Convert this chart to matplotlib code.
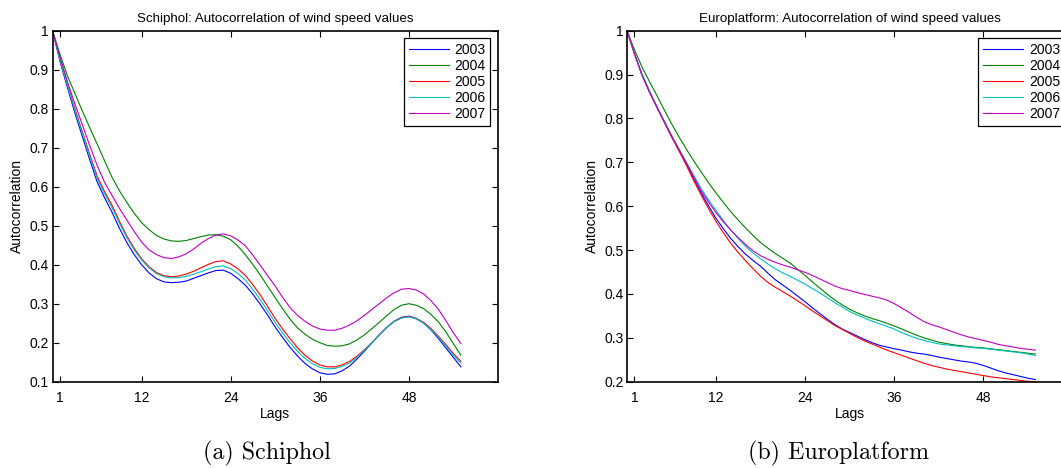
import matplotlib
matplotlib.use("Agg")
import matplotlib.pyplot as plt

# ---------------- data ----------------
lags = list(range(0, 56))
years = ["2003", "2004", "2005", "2006", "2007"]

# Schiphol
sch_2003 = [1.0, 0.922, 0.855, 0.790, 0.730, 0.670, 0.613, 0.572, 0.535, 0.494,
            0.457, 0.426, 0.400, 0.379, 0.364, 0.356, 0.354, 0.355, 0.358, 0.365,
            0.372, 0.379, 0.385, 0.386, 0.378, 0.364, 0.347, 0.324, 0.298, 0.270,
            0.240, 0.213, 0.188, 0.166, 0.147, 0.133, 0.123, 0.119, 0.120, 0.128,
            0.140, 0.158, 0.178, 0.199, 0.220, 0.239, 0.255, 0.265, 0.268, 0.262,
            0.250, 0.232, 0.210, 0.186, 0.162, 0.138]
sch_2004 = [1.0, 0.940, 0.885, 0.840, 0.795, 0.752, 0.710, 0.667, 0.625, 0.590,
            0.560, 0.532, 0.508, 0.490, 0.475, 0.466, 0.461, 0.460, 0.462, 0.467,
            0.472, 0.476, 0.477, 0.473, 0.464, 0.447, 0.425, 0.400, 0.373, 0.344,
            0.315, 0.287, 0.260, 0.238, 0.222, 0.209, 0.200, 0.193, 0.191, 0.192,
            0.197, 0.207, 0.220, 0.236, 0.252, 0.269, 0.285, 0.296, 0.300, 0.296,
            0.287, 0.272, 0.253, 0.227, 0.197, 0.168]
sch_2005 = [1.0, 0.928, 0.862, 0.801, 0.742, 0.684, 0.628, 0.588, 0.553, 0.512,
            0.474, 0.442, 0.415, 0.395, 0.380, 0.372, 0.369, 0.371, 0.376, 0.383,
            0.392, 0.401, 0.408, 0.410, 0.402, 0.389, 0.372, 0.348, 0.322, 0.292,
            0.262, 0.235, 0.210, 0.187, 0.168, 0.153, 0.143, 0.138, 0.138, 0.143,
            0.152, 0.165, 0.182, 0.200, 0.220, 0.239, 0.254, 0.264, 0.267, 0.262,
            0.252, 0.236, 0.216, 0.195, 0.172, 0.152]
sch_2006 = [1.0, 0.926, 0.860, 0.797, 0.738, 0.679, 0.622, 0.582, 0.547, 0.507,
            0.470, 0.438, 0.412, 0.392, 0.377, 0.369, 0.366, 0.367, 0.370, 0.376,
            0.382, 0.389, 0.395, 0.397, 0.390, 0.377, 0.360, 0.336, 0.310, 0.281,
            0.252, 0.225, 0.200, 0.178, 0.160, 0.146, 0.137, 0.133, 0.134, 0.139,
            0.148, 0.162, 0.180, 0.200, 0.220, 0.239, 0.254, 0.263, 0.266, 0.261,
            0.250, 0.233, 0.213, 0.191, 0.168, 0.148]
sch_2007 = [1.0, 0.934, 0.870, 0.813, 0.760, 0.706, 0.655, 0.612, 0.578, 0.545,
            0.515, 0.485, 0.458, 0.438, 0.426, 0.418, 0.416, 0.420, 0.428, 0.440,
            0.455, 0.467, 0.476, 0.479, 0.474, 0.463, 0.448, 0.424, 0.398, 0.371,
            0.345, 0.316, 0.290, 0.270, 0.255, 0.243, 0.235, 0.232, 0.232, 0.237,
            0.245, 0.256, 0.270, 0.285, 0.300, 0.315, 0.328, 0.337, 0.339, 0.335,
            0.325, 0.307, 0.285, 0.256, 0.225, 0.198]

# Europlatform
eur_2003 = [1.0, 0.948, 0.900, 0.862, 0.827, 0.793, 0.760, 0.728, 0.697, 0.662,
            0.630, 0.600, 0.572, 0.548, 0.526, 0.507, 0.490, 0.476, 0.463, 0.447,
            0.432, 0.420, 0.408, 0.395, 0.382, 0.368, 0.355, 0.342, 0.330, 0.320,
            0.312, 0.304, 0.296, 0.289, 0.283, 0.279, 0.275, 0.272, 0.268, 0.265,
            0.263, 0.260, 0.256, 0.253, 0.250, 0.247, 0.245, 0.242, 0.237, 0.231,
            0.225, 0.220, 0.216, 0.212, 0.208, 0.205]
eur_2004 = [1.0, 0.957, 0.918, 0.885, 0.853, 0.820, 0.788, 0.758, 0.730, 0.703,
            0.678, 0.653, 0.630, 0.608, 0.587, 0.568, 0.550, 0.533, 0.517, 0.504,
            0.492, 0.481, 0.470, 0.456, 0.442, 0.427, 0.413, 0.399, 0.386, 0.375,
            0.365, 0.357, 0.350, 0.344, 0.339, 0.333, 0.327, 0.320, 0.313, 0.306,
            0.300, 0.295, 0.290, 0.287, 0.284, 0.282, 0.280, 0.278, 0.277, 0.275,
            0.273, 0.271, 0.269, 0.267, 0.265, 0.263]
eur_2005 = [1.0, 0.948, 0.900, 0.861, 0.826, 0.792, 0.758, 0.726, 0.693, 0.658,
            0.625, 0.594, 0.565, 0.539, 0.515, 0.494, 0.475, 0.457, 0.440, 0.426,
            0.415, 0.405, 0.395, 0.384, 0.373, 0.361, 0.350, 0.339, 0.328, 0.319,
            0.310, 0.301, 0.293, 0.286, 0.279, 0.272, 0.266, 0.260, 0.254, 0.248,
            0.242, 0.237, 0.233, 0.229, 0.226, 0.223, 0.220, 0.217, 0.214, 0.211,
            0.209, 0.207, 0.205, 0.203, 0.201, 0.200]
eur_2006 = [1.0, 0.949, 0.902, 0.864, 0.828, 0.795, 0.762, 0.731, 0.700, 0.670,
            0.640, 0.614, 0.590, 0.567, 0.545, 0.526, 0.508, 0.493, 0.480, 0.468,
            0.457, 0.448, 0.440, 0.431, 0.422, 0.412, 0.402, 0.391, 0.380, 0.370,
            0.360, 0.352, 0.345, 0.338, 0.332, 0.326, 0.320, 0.312, 0.305, 0.299,
            0.294, 0.290, 0.286, 0.284, 0.282, 0.280, 0.279, 0.277, 0.276, 0.274,
            0.272, 0.270, 0.268, 0.266, 0.263, 0.260]
eur_2007 = [1.0, 0.948, 0.900, 0.862, 0.827, 0.793, 0.760, 0.729, 0.698, 0.666,
            0.635, 0.609, 0.585, 0.564, 0.545, 0.528, 0.512, 0.498, 0.487, 0.479,
            0.472, 0.466, 0.461, 0.455, 0.449, 0.442, 0.434, 0.426, 0.418, 0.412,
            0.408, 0.403, 0.399, 0.395, 0.391, 0.386, 0.378, 0.368, 0.358, 0.347,
            0.337, 0.330, 0.325, 0.319, 0.313, 0.307, 0.302, 0.298, 0.294, 0.290,
            0.285, 0.282, 0.279, 0.276, 0.274, 0.272]

xticks = [1, 12, 24, 36, 48]
sch_yticks = [0.1, 0.2, 0.3, 0.4, 0.5, 0.6, 0.7, 0.8, 0.9, 1.0]
sch_yticklabels = ["0.1", "0.2", "0.3", "0.4", "0.5", "0.6", "0.7", "0.8", "0.9", "1"]
eur_yticks = [0.2, 0.3, 0.4, 0.5, 0.6, 0.7, 0.8, 0.9, 1.0]
eur_yticklabels = ["0.2", "0.3", "0.4", "0.5", "0.6", "0.7", "0.8", "0.9", "1"]

colors = [(0, 0, 1), (0, 0.5, 0), (1, 0, 0), (0, 0.75, 0.75), (0.75, 0, 0.75)]

# ---------------- figure ----------------
plt.rcParams["font.family"] = ["Liberation Sans", "DejaVu Sans"]
W, H = 1061, 468
fig = plt.figure(figsize=(W / 100, H / 100), dpi=100)

FS = 10


def make_axes(left_px, series, yticks, yticklabels, ylim, title):
    ax = fig.add_axes([left_px / W, 1 - 381.7 / H, 445.5 / W, 351 / H])
    for s, c, lab in zip(series, colors, years):
        ax.plot(lags, s, color=c, lw=0.8, label=lab)
    ax.set_xlim(0, 60)
    ax.set_ylim(*ylim)
    ax.set_xticks(xticks)
    ax.set_xticklabels([str(t) for t in xticks])
    ax.set_yticks(yticks)
    ax.set_yticklabels(yticklabels)
    ax.tick_params(direction="in", top=True, right=True, length=4, width=0.8,
                   labelsize=FS)
    ax.tick_params(axis="x", pad=6.5)
    ax.tick_params(axis="y", pad=2.5)
    for sp in ax.spines.values():
        sp.set_linewidth(1.2)
    ax.set_title(title, fontsize=9.6, pad=6)
    ax.set_xlabel("Lags", fontsize=FS, labelpad=1.5)
    ax.set_ylabel("Autocorrelation", fontsize=FS, labelpad=4)
    leg = ax.legend(loc="upper right", fontsize=FS, frameon=True, fancybox=False,
                    edgecolor="black", framealpha=1, handlelength=2.9,
                    labelspacing=0.14, borderpad=0.35, handletextpad=0.4,
                    borderaxespad=0.55)
    leg.get_frame().set_linewidth(0.9)
    return ax


make_axes(52.5, [sch_2003, sch_2004, sch_2005, sch_2006, sch_2007],
          sch_yticks, sch_yticklabels, (0.1, 1.0),
          "Schiphol: Autocorrelation of wind speed values")
make_axes(627, [eur_2003, eur_2004, eur_2005, eur_2006, eur_2007],
          eur_yticks, eur_yticklabels, (0.2, 1.0),
          "Europlatform: Autocorrelation of wind speed values")

fig.text(266.5 / W, 1 - 453 / H, "(a) Schiphol", fontsize=17.3, family="cmr10",
         ha="center", va="center")
fig.text(839 / W, 1 - 453 / H, "(b) Europlatform", fontsize=17.3, family="cmr10",
         ha="center", va="center")

fig.savefig("out.png", dpi=100)
